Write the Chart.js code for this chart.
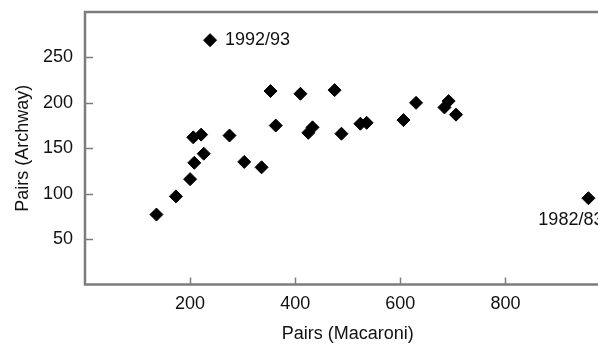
<!DOCTYPE html>
<html>
<head>
<meta charset="utf-8">
<script src="https://cdn.jsdelivr.net/npm/chart.js@4/dist/chart.umd.min.js"></script>
<style>
  html, body { margin: 0; padding: 0; background: #fff; overflow: hidden; }
  #wrap { width: 618px; height: 345px; }
</style>
</head>
<body>
<div id="wrap"><canvas id="c" width="618" height="345"></canvas></div>
<script>
// ---- data ----
const macaroniPairs = [136, 173, 200, 208, 226, 206, 221, 238, 275, 303, 336, 353, 363, 410, 475, 425, 433, 488, 524, 536, 606, 630, 684, 692, 706, 958];
const archwayPairs  = [ 77,  97, 116, 134, 144, 162, 165, 269, 164, 135, 129, 213, 175, 210, 214, 167, 173, 166, 177, 178, 181, 200, 195, 202, 187,  95];
const pointNotes    = ['', '', '', '', '', '', '', '1992/93', '', '', '', '', '', '', '', '', '', '', '', '', '', '', '', '', '', '1982/83'];
const xTickValues = [200, 400, 600, 800];
const yTickValues = [50, 100, 150, 200, 250];
const xTitle = 'Pairs (Macaroni)';
const yTitle = 'Pairs (Archway)';

const FONT = "'Liberation Sans', Arial, sans-serif";
const FRAME = '#7c7c7c';

const points = macaroniPairs.map((x, i) => ({ x: x, y: archwayPairs[i] }));

const framePlugin = {
  id: 'frame',
  beforeDatasetsDraw(chart) {
    const { ctx, chartArea: a, scales } = chart;
    ctx.save();
    ctx.strokeStyle = FRAME;
    ctx.lineWidth = 2.5;
    ctx.strokeRect(a.left, a.top, a.right - a.left, a.bottom - a.top);
    ctx.lineWidth = 1.5;
    ctx.beginPath();
    scales.x.ticks.forEach(t => {
      const px = Math.round(scales.x.getPixelForValue(t.value)) + 0.5;
      ctx.moveTo(px, a.bottom);
      ctx.lineTo(px, a.bottom - 7);
    });
    scales.y.ticks.forEach(t => {
      const py = Math.round(scales.y.getPixelForValue(t.value)) + 0.5;
      ctx.moveTo(a.left, py);
      ctx.lineTo(a.left + 8, py);
    });
    ctx.stroke();
    ctx.restore();
  },
  afterDatasetsDraw(chart) {
    const { ctx, chartArea: a } = chart;
    const meta = chart.getDatasetMeta(0);
    ctx.save();
    ctx.fillStyle = '#111';
    ctx.font = '18px ' + FONT;
    pointNotes.forEach((txt, i) => {
      if (!txt) return;
      const el = meta.data[i];
      ctx.textBaseline = 'middle';
      if (el.x > a.left + (a.right - a.left) * 0.8) {
        ctx.textAlign = 'right';
        ctx.fillText(txt, el.x + 15, el.y + 22);
      } else {
        ctx.textAlign = 'left';
        ctx.fillText(txt, el.x + 15, el.y);
      }
    });
    ctx.restore();
  }
};

new Chart(document.getElementById('c'), {
  type: 'scatter',
  data: {
    datasets: [{
      data: points,
      pointStyle: 'rectRot',
      pointRadius: 6.5,
      pointHoverRadius: 6.5,
      backgroundColor: '#000',
      borderColor: '#000',
      borderWidth: 1
    }]
  },
  options: {
    responsive: false,
    animation: false,
    events: [],
    layout: { padding: { top: 12, right: 3, left: 0, bottom: 0 } },
    plugins: { legend: { display: false }, tooltip: { enabled: false } },
    scales: {
      x: {
        type: 'linear',
        position: 'bottom',
        min: 0,
        max: 1000,
        afterBuildTicks: s => { s.ticks = xTickValues.map(v => ({ value: v })); },
        afterFit: s => { s.height = 60.5; s.paddingLeft = 0; s.paddingRight = 0; },
        grid: { display: false, drawTicks: false },
        border: { display: false },
        ticks: { color: '#111', font: { family: FONT, size: 18 }, padding: 9, maxRotation: 0 },
        title: { display: true, text: xTitle, color: '#111', font: { family: FONT, size: 18 }, padding: { top: 0, bottom: 0 } }
      },
      y: {
        type: 'linear',
        position: 'left',
        min: 0,
        max: 300,
        afterBuildTicks: s => { s.ticks = yTickValues.map(v => ({ value: v })); },
        afterFit: s => { s.width = 85; s.paddingTop = 0; s.paddingBottom = 0; },
        grid: { display: false, drawTicks: false },
        border: { display: false },
        ticks: { color: '#111', font: { family: FONT, size: 18 }, padding: 12 },
        title: { display: true, text: yTitle, color: '#111', font: { family: FONT, size: 18 }, padding: { top: 12, bottom: 0 } }
      }
    }
  },
  plugins: [framePlugin]
});
</script>
</body>
</html>
